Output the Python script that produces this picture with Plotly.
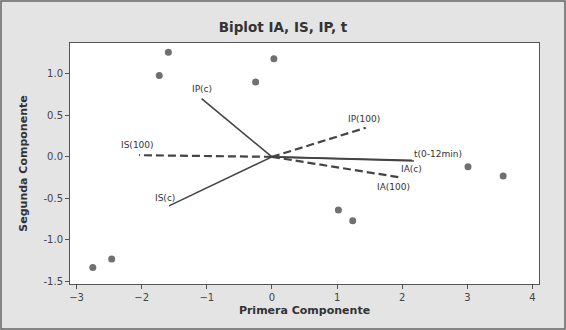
import plotly.graph_objects as go

# Scores (observations)
score_x = [-1.59, -1.73, 0.03, -0.25, 3.01, 3.55, 1.02, 1.24, -2.75, -2.46]
score_y = [1.26, 0.98, 1.18, 0.90, -0.12, -0.23, -0.64, -0.77, -1.33, -1.23]

# Loadings (variables)
var_names = ["IP(c)", "IS(100)", "IS(c)", "IP(100)", "t(0-12min)", "IA(c)", "IA(100)"]
load_x = [-1.08, -2.04, -1.58, 1.44, 2.18, 2.15, 1.99]
load_y = [0.70, 0.02, -0.59, 0.35, -0.05, -0.04, -0.25]
var_dash = ["solid", "dash", "solid", "dash", "solid", "solid", "dash"]

# label offsets in pixels (ax, ay) – styling only
label_pos = {
    "IP(c)": (0, -10), "IS(100)": (-2, -10), "IS(c)": (-4, -8), "IP(100)": (-2, -9),
    "t(0-12min)": (24, -7), "IA(c)": (0, 9), "IA(100)": (-8, 9),
}

fig = go.Figure()
for n, x, y, d in zip(var_names, load_x, load_y, var_dash):
    fig.add_trace(go.Scatter(
        x=[0, x], y=[0, y], mode="lines",
        line=dict(color="#444444", width=2.2 if d == "dash" else 1.6, dash="8px,4px" if d == "dash" else "solid"),
        showlegend=False, hoverinfo="skip"))
    ax, ay = label_pos[n]
    fig.add_annotation(x=x, y=y, text=n, showarrow=False, xshift=ax, yshift=-ay,
                       font=dict(family="DejaVu Sans", size=9, color="#333333"))

fig.add_trace(go.Scatter(
    x=score_x, y=score_y, mode="markers",
    marker=dict(color="#707070", size=7), showlegend=False))

fig.update_layout(
    width=566, height=330,
    margin=dict(l=70, r=27, t=43, b=46),
    paper_bgcolor="#e4e4e4", plot_bgcolor="white",
    title=dict(text="<b>Biplot IA, IS, IP, t</b>", x=0.5, xanchor="center", y=0.918, yanchor="middle",
               font=dict(family="DejaVu Sans", size=13.5, color="#333333")),
    font=dict(family="DejaVu Sans", size=10, color="#444444"),
    xaxis=dict(range=[-3.1, 4.1], tickvals=[-3, -2, -1, 0, 1, 2, 3, 4], showgrid=False, zeroline=False,
               showline=True, linecolor="#555555", linewidth=1, mirror=True,
               ticks="outside", ticklen=4, tickcolor="#555555",
               title=dict(text="<b>Primera Componente</b>", standoff=4,
                          font=dict(family="DejaVu Sans", size=11, color="#333333"))),
    yaxis=dict(range=[-1.53, 1.37], tickvals=[-1.5, -1.0, -0.5, 0.0, 0.5, 1.0],
               ticktext=["-1.5", "-1.0", "-0.5", "0.0", "0.5", "1.0"], showgrid=False, zeroline=False,
               showline=True, linecolor="#555555", linewidth=1, mirror=True,
               ticks="outside", ticklen=4, tickcolor="#555555",
               title=dict(text="<b>Segunda Componente</b>", standoff=13,
                          font=dict(family="DejaVu Sans", size=11, color="#333333"))),
    shapes=[dict(type="rect", xref="paper", yref="paper",
                 x0=(1 - 70) / 469, x1=(565 - 70) / 469, y0=(284 - 329) / 241, y1=(284 - 1) / 241,
                 line=dict(color="#666666", width=1.5), layer="below")],
)

fig.write_html("out.html", config={"displayModeBar": False},
               post_script="document.body.style.margin='0';")
